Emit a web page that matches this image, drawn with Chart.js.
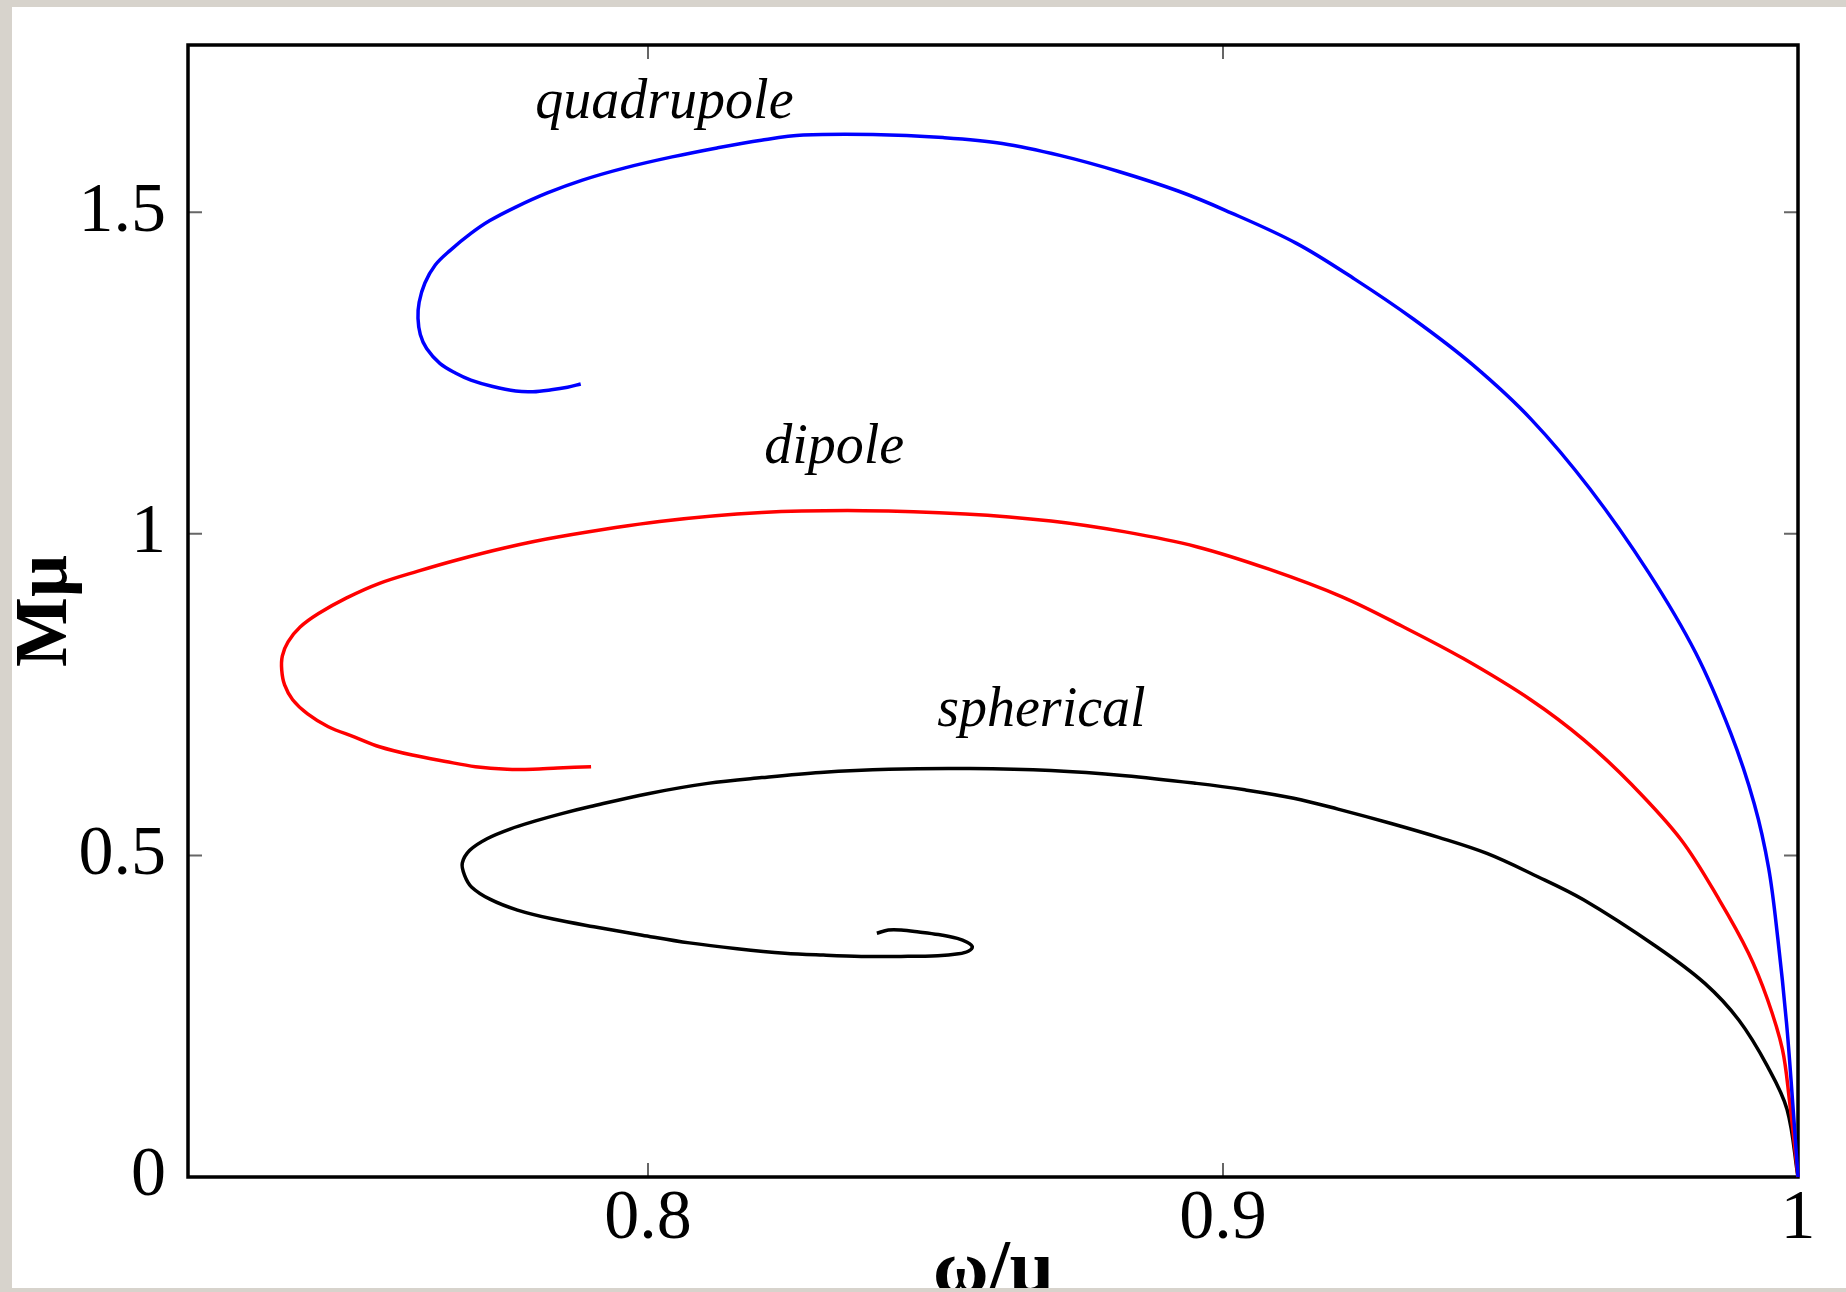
<!DOCTYPE html>
<html>
<head>
<meta charset="utf-8">
<script src="https://cdn.jsdelivr.net/npm/chart.js@4.4.1/dist/chart.umd.min.js"></script>
<style>
  html, body { margin: 0; padding: 0; }
  body { width: 1846px; height: 1292px; background: #d7d3cc; position: relative; overflow: hidden; }
  #panel { position: absolute; left: 12px; top: 7px; width: 1834px; height: 1281px; background: #ffffff; overflow: hidden; }
  #c { position: absolute; left: -12px; top: -7px; }
</style>
</head>
<body>
<div id="panel"><canvas id="c" width="1846" height="1292"></canvas></div>
<script>
// ---- data ----
const xTickValues = [0.8, 0.9, 1.0];
const xTickLabels = ['0.8', '0.9', '1'];
const yTickValues = [0, 0.5, 1.0, 1.5];
const yTickLabels = ['0', '0.5', '1', '1.5'];

const quadX = [1.0, 0.9990, 0.9980, 0.9965, 0.9949, 0.9924, 0.9883, 0.9822, 0.9740, 0.9638, 0.9536, 0.9434, 0.9331, 0.9229, 0.9127, 0.9004, 0.8922, 0.8820, 0.8718, 0.8616, 0.8513, 0.8391, 0.8270, 0.8197, 0.8120, 0.8042, 0.7960, 0.7886, 0.7825, 0.7770, 0.7725, 0.7692, 0.7655, 0.7630, 0.7612, 0.7602, 0.7600, 0.7604, 0.7615, 0.7638, 0.7665, 0.7692, 0.7730, 0.7770, 0.7800, 0.7832, 0.7860, 0.7883];
const quadY = [0, 0.125, 0.240, 0.370, 0.480, 0.580, 0.690, 0.815, 0.940, 1.070, 1.178, 1.263, 1.334, 1.396, 1.452, 1.503, 1.533, 1.563, 1.588, 1.607, 1.616, 1.621, 1.620, 1.612, 1.600, 1.586, 1.569, 1.550, 1.530, 1.508, 1.487, 1.467, 1.440, 1.418, 1.390, 1.360, 1.335, 1.310, 1.288, 1.265, 1.250, 1.239, 1.229, 1.222, 1.221, 1.224, 1.228, 1.233];

const dipX = [1.0, 0.9985, 0.9973, 0.9947, 0.9914, 0.9863, 0.9797, 0.9712, 0.9627, 0.9535, 0.9418, 0.9310, 0.9207, 0.9080, 0.8954, 0.8830, 0.8701, 0.8552, 0.8375, 0.8198, 0.8020, 0.7843, 0.7750, 0.7666, 0.7600, 0.7533, 0.7475, 0.7427, 0.7395, 0.7374, 0.7364, 0.7363, 0.7368, 0.7382, 0.7408, 0.7444, 0.7490, 0.7533, 0.7590, 0.7648, 0.7700, 0.7755, 0.7800, 0.7843, 0.7901];
const dipY = [0, 0.120, 0.198, 0.276, 0.348, 0.431, 0.524, 0.609, 0.680, 0.742, 0.806, 0.857, 0.902, 0.945, 0.980, 1.003, 1.020, 1.031, 1.036, 1.033, 1.019, 0.995, 0.978, 0.959, 0.942, 0.923, 0.900, 0.876, 0.855, 0.832, 0.810, 0.788, 0.765, 0.742, 0.720, 0.700, 0.684, 0.669, 0.656, 0.646, 0.638, 0.634, 0.634, 0.636, 0.638];

const sphX = [1.0, 0.9981, 0.9947, 0.9897, 0.9838, 0.9754, 0.9627, 0.9540, 0.9459, 0.9375, 0.9291, 0.9200, 0.9123, 0.9038, 0.8954, 0.8830, 0.8701, 0.8560, 0.8419, 0.8300, 0.8198, 0.8104, 0.8000, 0.7900, 0.7850, 0.7806, 0.7760, 0.7720, 0.7690, 0.7677, 0.7681, 0.7693, 0.7725, 0.7773, 0.7835, 0.7906, 0.7990, 0.8072, 0.8155, 0.8238, 0.8305, 0.8371, 0.8440, 0.8504, 0.8540, 0.8557, 0.8564, 0.8555, 0.8538, 0.8505, 0.8471, 0.8440, 0.8418, 0.8398];
const sphY = [0, 0.105, 0.172, 0.244, 0.301, 0.358, 0.431, 0.470, 0.503, 0.528, 0.550, 0.572, 0.589, 0.602, 0.612, 0.624, 0.632, 0.635, 0.634, 0.629, 0.621, 0.612, 0.596, 0.576, 0.565, 0.554, 0.541, 0.526, 0.508, 0.488, 0.469, 0.451, 0.432, 0.415, 0.401, 0.389, 0.376, 0.364, 0.355, 0.348, 0.345, 0.343, 0.343, 0.344, 0.347, 0.351, 0.358, 0.365, 0.371, 0.377, 0.381, 0.384, 0.384, 0.379];

const seriesNames = ['quadrupole', 'dipole', 'spherical'];
const seriesColors = ['#0000ff', '#ff0000', '#000000'];
// label anchors (left edge x, baseline y) in data units
const labelX = [0.7804, 0.8202, 0.8503];
const labelY = [1.646, 1.110, 0.701];

const toPoints = (xs, ys) => xs.map((x, i) => ({ x: x, y: ys[i] }));
const seriesData = [toPoints(quadX, quadY), toPoints(dipX, dipY), toPoints(sphX, sphY)];

const SERIF = '"Liberation Serif", "Times New Roman", serif';

const framePlugin = {
  id: 'frameTicks',
  beforeDatasetsDraw(chart) {
    const { ctx, chartArea: a, scales: { x, y } } = chart;
    ctx.save();
    ctx.strokeStyle = '#666';
    ctx.lineWidth = 2;
    const len = 14;
    ctx.beginPath();
    xTickValues.forEach(v => {
      const px = x.getPixelForValue(v);
      if (px > a.left + 2 && px < a.right - 2) {
        ctx.moveTo(px, a.bottom); ctx.lineTo(px, a.bottom - len);
        ctx.moveTo(px, a.top); ctx.lineTo(px, a.top + len);
      }
    });
    yTickValues.forEach(v => {
      const py = y.getPixelForValue(v);
      if (py > a.top + 2 && py < a.bottom - 2) {
        ctx.moveTo(a.left, py); ctx.lineTo(a.left + len, py);
        ctx.moveTo(a.right, py); ctx.lineTo(a.right - len, py);
      }
    });
    ctx.stroke();
    ctx.strokeStyle = '#000';
    ctx.lineWidth = 3.5;
    ctx.strokeRect(a.left, a.top, a.right - a.left, a.bottom - a.top);
    ctx.restore();
  },
  afterDatasetsDraw(chart) {
    const { ctx, scales: { x, y } } = chart;
    ctx.save();
    ctx.fillStyle = '#000';
    ctx.font = 'italic 56px ' + SERIF;
    ctx.textAlign = 'left';
    ctx.textBaseline = 'alphabetic';
    seriesNames.forEach((n, i) => {
      ctx.fillText(n, x.getPixelForValue(labelX[i]), y.getPixelForValue(labelY[i]));
    });
    ctx.restore();
  }
};

new Chart(document.getElementById('c'), {
  type: 'scatter',
  data: {
    datasets: seriesNames.map((n, i) => ({
      label: n,
      data: seriesData[i],
      showLine: true,
      borderColor: seriesColors[i],
      backgroundColor: seriesColors[i],
      borderWidth: 3.5,
      pointRadius: 0,
      tension: 0.35,
      fill: false,
      clip: false
    }))
  },
  options: {
    responsive: false,
    animation: false,
    devicePixelRatio: 1,
    layout: { padding: { left: 0, top: 45, right: 48, bottom: 0 } },
    plugins: { legend: { display: false }, tooltip: { enabled: false } },
    scales: {
      x: {
        type: 'linear',
        min: 0.72,
        max: 1.0,
        afterBuildTicks(s) { s.ticks = xTickValues.map(v => ({ value: v })); },
        afterFit(s) { s.height = 115; s.paddingLeft = 0; s.paddingRight = 0; },
        grid: { display: false },
        border: { display: false },
        ticks: {
          color: '#000',
          font: { family: SERIF, size: 70 },
          padding: -7,
          maxRotation: 0,
          autoSkip: false,
          callback: (v, i) => xTickLabels[i]
        },
        title: {
          display: true,
          text: 'ω/μ',
          color: '#000',
          font: { family: SERIF, size: 76, weight: 'bold', lineHeight: 0.53 },
          padding: 0
        }
      },
      y: {
        type: 'linear',
        min: 0,
        max: 1.76,
        afterBuildTicks(s) { s.ticks = yTickValues.map(v => ({ value: v })); },
        afterFit(s) { s.width = 188; s.paddingTop = 0; s.paddingBottom = 0; },
        grid: { display: false },
        border: { display: false },
        ticks: {
          color: '#000',
          font: { family: SERIF, size: 70 },
          padding: 14,
          autoSkip: false,
          callback: (v, i) => yTickLabels[i]
        },
        title: {
          display: true,
          text: 'Mμ',
          color: '#000',
          font: { family: SERIF, size: 74, weight: 'bold', lineHeight: 1.27 },
          padding: 0
        }
      }
    }
  },
  plugins: [framePlugin]
});
</script>
</body>
</html>
